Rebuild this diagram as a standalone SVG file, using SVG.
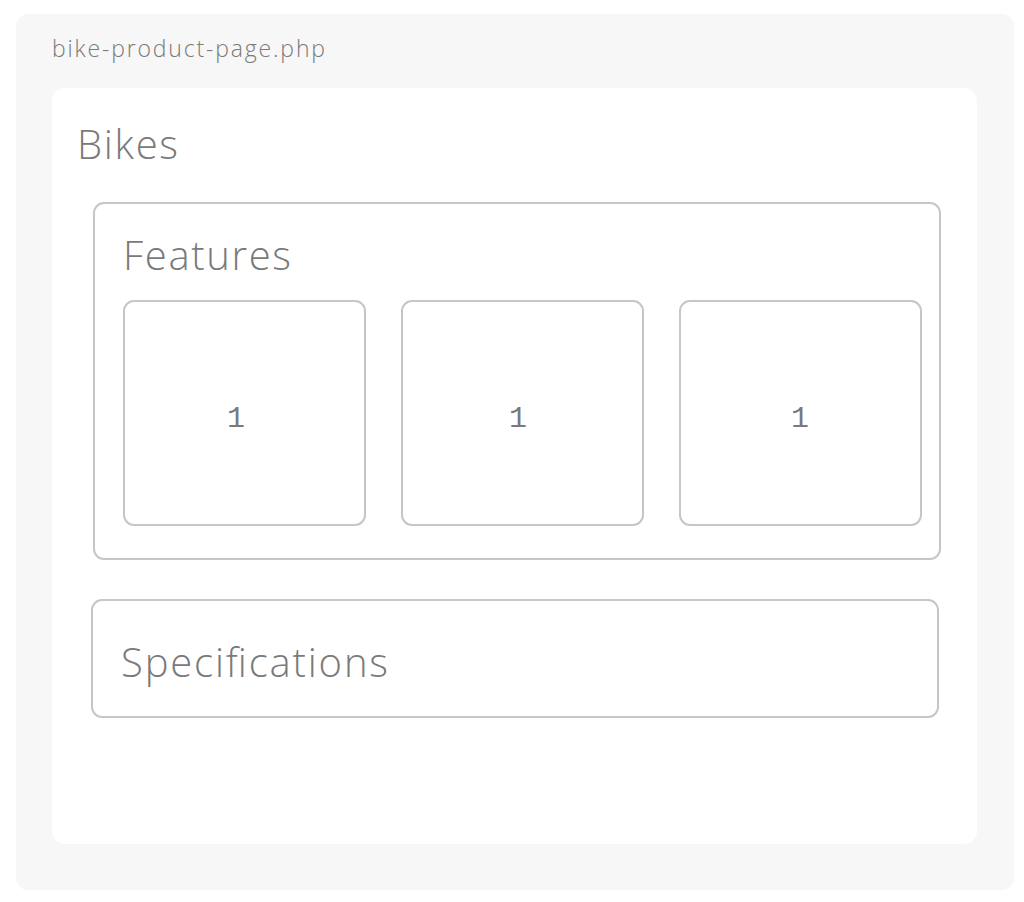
<svg xmlns="http://www.w3.org/2000/svg" width="1024" height="902" viewBox="0 0 1024 902">
<style>
.lbl{font-family:"Open Sans",Lato,"Liberation Sans",sans-serif;font-weight:300;fill:#7a7a7a}
.box{fill:#ffffff;stroke:#c6c6c6;stroke-width:2}
.num{font-family:"Liberation Mono","DejaVu Sans Mono",monospace;font-size:30px;fill:#7a7a7a;text-anchor:middle}
</style>
<rect width="1024" height="902" fill="#ffffff"/>
<g id="page">
<rect x="16" y="14" width="998" height="876" rx="12" fill="#f7f7f7"/>
<text class="lbl" x="52" y="57" font-size="23" textLength="273" lengthAdjust="spacing">bike-product-page.php</text>
</g>
<g id="bikes">
<rect x="52" y="88" width="925" height="756" rx="13" fill="#ffffff"/>
<text class="lbl" x="77" y="159" font-size="40" textLength="101" lengthAdjust="spacing">Bikes</text>
</g>
<g id="features">
<rect class="box" x="94" y="203" width="846" height="356" rx="10"/>
<text class="lbl" x="123" y="270" font-size="40" textLength="168" lengthAdjust="spacing">Features</text>
</g>
<g id="card1">
<rect class="box" x="124" y="301" width="241" height="224" rx="10"/>
<text class="num" x="236" y="427">1</text>
</g>
<g id="card2">
<rect class="box" x="402" y="301" width="241" height="224" rx="10"/>
<text class="num" x="518" y="427">1</text>
</g>
<g id="card3">
<rect class="box" x="680" y="301" width="241" height="224" rx="10"/>
<text class="num" x="800" y="427">1</text>
</g>
<g id="specifications">
<rect class="box" x="92" y="600" width="846" height="117" rx="10"/>
<text class="lbl" x="121" y="677" font-size="40" textLength="267" lengthAdjust="spacing">Specifications</text>
</g>
<g id="connectors"></g>
</svg>
